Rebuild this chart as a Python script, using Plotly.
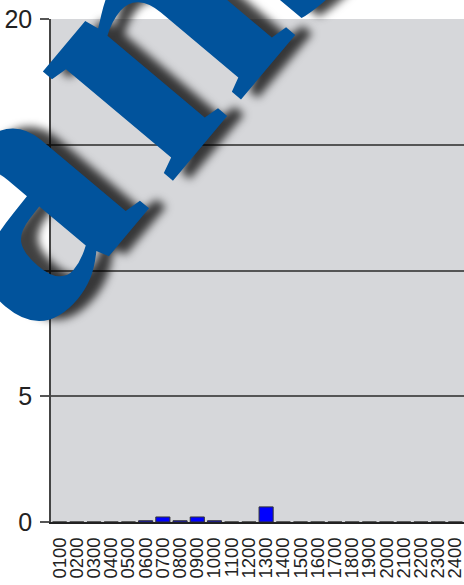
import plotly.graph_objects as go

hours = ["0100", "0200", "0300", "0400", "0500", "0600", "0700", "0800",
         "0900", "1000", "1100", "1200", "1300", "1400", "1500", "1600",
         "1700", "1800", "1900", "2000", "2100", "2200", "2300", "2400"]
values = [0, 0, 0, 0, 0, 0.05, 0.2, 0.05,
          0.2, 0.05, 0, 0, 0.6, 0, 0, 0,
          0, 0, 0, 0, 0, 0, 0, 0]
y_ticks = [0, 5, 10, 15, 20]
watermark_letters = ["a", "n", "s"]

# watermark letter centres, in pixels of the 464x585 page
letter_px = [(-3, 195), (137, 29), (249, -105)]

PL, PT, PW, PH = 51, 19, 413, 503.5

fig = go.Figure()
fig.add_trace(go.Bar(
    x=hours, y=values,
    marker=dict(color="#0000FF", line=dict(color="#333333", width=1)),
))

annotations = []
for ch, (px, py) in zip(watermark_letters, letter_px):
    annotations.append(dict(
        text=ch,
        xref="paper", yref="paper",
        x=(px - PL) / PW, y=(PT + PH - py) / PH,
        xanchor="center", yanchor="middle",
        showarrow=False,
        textangle=-50,
        font=dict(family="Liberation Serif", size=370, color="#01539C",
                  weight="bold",
                  shadow="12px 12px 9px rgba(0,0,0,0.75)"),
    ))

fig.update_layout(
    width=464, height=585,
    margin=dict(l=PL, r=0, t=PT, b=585 - PT - PH, autoexpand=False),
    paper_bgcolor="white",
    plot_bgcolor="#D6D7DA",
    bargap=0.18,
    showlegend=False,
    font=dict(family="Liberation Sans, Arial, sans-serif", color="#222222"),
    xaxis=dict(
        type="category",
        tickmode="array", tickvals=hours, ticktext=hours,
        tickangle=-90,
        tickfont=dict(size=18.5, color="#222222"),
        showline=True, linecolor="#222222", linewidth=2,
        ticks="", showgrid=False,
        ticklabelstandoff=6,
        automargin=False,
    ),
    yaxis=dict(
        range=[0, 20],
        tickvals=y_ticks,
        tickfont=dict(size=25, color="#222222"),
        showline=True, linecolor="#444444", linewidth=1.5,
        ticks="outside", ticklen=9, tickcolor="#555555", tickwidth=1.5,
        showgrid=True, gridcolor="#555555", gridwidth=1.5,
        zeroline=False,
        ticklabelstandoff=3,
        automargin=False,
    ),
    annotations=annotations,
)

fig.write_html(
    "out.html",
    config={"displayModeBar": False},
    post_script="document.body.style.margin='0';document.body.style.overflow='hidden';",
)
